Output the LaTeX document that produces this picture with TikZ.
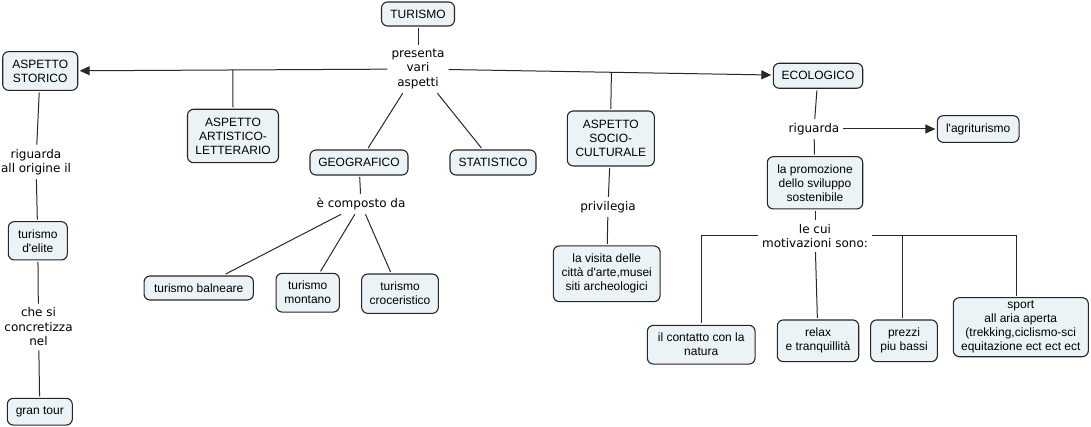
\documentclass[tikz,border=0pt]{standalone}
\usepackage{fontspec}
\newfontfamily\boxfamily{Liberation Sans}
\newfontfamily\linkfamily{DejaVu Sans}
\usetikzlibrary{arrows.meta,calc}
\definecolor{boxfill}{RGB}{236,243,246}
\definecolor{lncol}{RGB}{40,40,40}
\begin{document}
\begin{tikzpicture}[x=1pt,y=-1pt,
  box/.style={draw=black!85, line width=1.1pt, rounded corners=6pt, fill=boxfill, align=center, inner sep=0pt, outer sep=2pt, font=\boxfamily\fontsize{12}{14}\selectfont},
  lnk/.style={align=center, inner sep=4pt, font=\linkfamily\fontsize{12}{14.5}\selectfont},
  conn/.style={draw=lncol, line width=1pt},
  arr/.style={conn, -{Triangle[length=10pt,width=9pt]}},
  sz/.style 2 args={minimum width=#1pt, minimum height=#2pt}]
\useasboundingbox (0,0) rectangle (1091,427);

% concepts
\node[box,sz={73}{24}] (turismo) at (418,14) {TURISMO};
\node[box,sz={75}{38.7}] (storico) at (40.2,71) {ASPETTO\\STORICO};
\node[box,sz={91}{53.4}] (artistico) at (233,136) {ASPETTO\\ARTISTICO-\\LETTERARIO};
\node[box,sz={98}{25}] (geografico) at (359,162.5) {GEOGRAFICO};
\node[box,sz={86}{25}] (statistico) at (493,162.5) {STATISTICO};
\node[box,sz={87}{55}] (socio) at (610.8,138.5) {ASPETTO\\SOCIO-\\CULTURALE};
\node[box,sz={89.4}{25}] (ecologico) at (818,75.8) {ECOLOGICO};
\node[box,sz={81.7}{26.7}] (agri) at (978.2,129) {l'agriturismo};
\node[box,sz={95.4}{52.3}] (promozione) at (815,182.8) {la promozione\\dello sviluppo\\sostenibile};
\node[box,sz={106.7}{55.7}] (visita) at (606.7,273.8) {la visita delle\\città d'arte,musei\\siti archeologici};
\node[box,sz={109.3}{24}] (balneare) at (198.7,288) {turismo balneare};
\node[box,sz={63.3}{38.7}] (montano) at (307.7,292.7) {turismo\\montano};
\node[box,sz={76.7}{39.3}] (croceristico) at (400,293.7) {turismo\\croceristico};
\node[box,sz={59}{38.3}] (elite) at (37.8,240.8) {turismo\\d'elite};
\node[box,sz={65}{26.7}] (grantour) at (39.8,411.7) {gran tour};
\node[box,sz={107.7}{38.7}] (contatto) at (701.2,344.7) {il contatto con la\\natura};
\node[box,sz={81.4}{41.7}] (relax) at (818,340.8) {relax\\e tranquillità};
\node[box,sz={66.7}{41.7}] (prezzi) at (904,340.8) {prezzi\\piu bassi};
\node[box,sz={135}{59}] (sport) at (1020.8,327.2) {sport\\all aria aperta\\(trekking,ciclismo-sci\\equitazione ect ect ect};

% linking phrases
\node[lnk] (presenta) at (418,69) {presenta\\vari\\aspetti};
\node[lnk] (rig1) at (36,162) {riguarda\\all origine il};
\node[lnk] (concr) at (38.5,327) {che si\\concretizza\\nel};
\node[lnk] (composto) at (361,204) {è composto da};
\node[lnk] (privilegia) at (608,207) {privilegia};
\node[lnk] (rig2) at (814,129) {riguarda};
\node[lnk] (lecui) at (815,236) {le cui\\motivazioni sono:};

% connectors
\draw[conn] (turismo) -- (presenta);
\draw[arr] (presenta) -- (storico);
\draw[arr] (presenta) -- (ecologico);
\coordinate (jA) at ($(presenta)!(artistico.north)!(storico)$);
\draw[conn] (jA) -- (artistico.north);
\coordinate (jS) at ($(presenta)!(socio.north)!(ecologico)$);
\draw[conn] (jS) -- (socio.north);
\draw[conn] (presenta) -- (geografico);
\draw[conn] (presenta) -- (statistico);

\draw[conn] (storico) -- (rig1);
\draw[conn] (rig1) -- (elite);
\draw[conn] (elite) -- (concr);
\draw[conn] (concr) -- (grantour);

\draw[conn] (geografico) -- (composto);
\draw[conn] (composto) -- (balneare);
\draw[conn] (composto) -- (montano);
\draw[conn] (composto) -- (croceristico);

\draw[conn] (socio) -- (privilegia);
\draw[conn] (privilegia) -- (visita);

\draw[conn] (ecologico) -- (rig2);
\draw[arr] (rig2) -- (agri);
\draw[conn] (rig2) -- (promozione);
\draw[conn] (promozione) -- (lecui);
\draw[conn] (lecui.west) -| (contatto.north);
\draw[conn] (lecui) -- (relax);
\draw[conn] (lecui.east) -| ([xshift=-4pt]sport.north);
\coordinate (jP) at ([xshift=-2pt]prezzi.north |- lecui.east);
\draw[conn] (jP) -- ([xshift=-2pt]prezzi.north);
\end{tikzpicture}
\end{document}
